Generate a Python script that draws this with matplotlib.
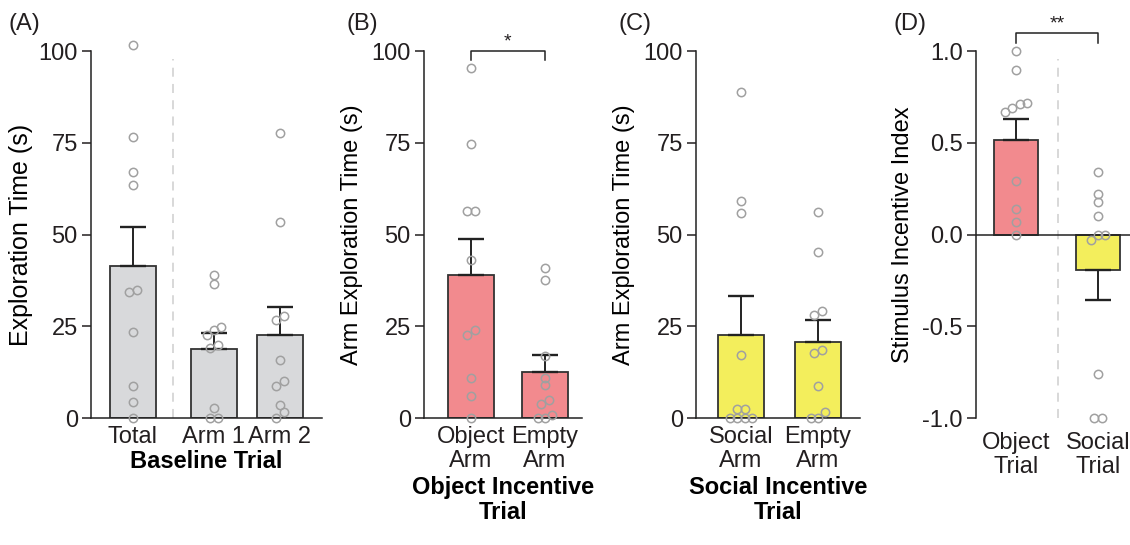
import numpy as np
import matplotlib
matplotlib.use('Agg')
import matplotlib.pyplot as plt

plt.rcParams['font.family'] = ['Liberation Sans', 'DejaVu Sans']
plt.rcParams['axes.unicode_minus'] = False
plt.rcParams['text.color'] = '#231f20'
plt.rcParams['xtick.color'] = '#231f20'
plt.rcParams['ytick.color'] = '#231f20'

#################################
# data
#################################

# (A) baseline trial
base_labels = ['Total', 'Arm 1', 'Arm 2']
base_means = [41.4, 18.9, 22.5]
base_sem = [10.8, 4.4, 7.9]
base_total = [101.6, 76.5, 67.2, 63.5, 35.0, 34.3, 23.4, 8.6, 4.4, 0.0]
base_arm1 = [39.1, 36.6, 24.7, 24.0, 22.7, 20.0, 19.1, 2.7, 0.0, 0.0]
base_arm2 = [77.7, 53.5, 27.9, 26.7, 15.7, 10.2, 8.6, 3.6, 1.6, 0.0]

# (B) object incentive trial
obj_labels = ['Object\nArm', 'Empty\nArm']
obj_means = [38.9, 12.5]
obj_sem = [9.9, 4.8]
obj_object = [95.3, 74.6, 56.5, 56.5, 43.0, 24.0, 22.6, 10.9, 5.9, 0.0]
obj_empty = [40.8, 37.7, 16.9, 10.9, 9.0, 5.0, 3.9, 0.9, 0.0, 0.0]

# (C) social incentive trial
soc_labels = ['Social\nArm', 'Empty\nArm']
soc_means = [22.7, 20.6]
soc_sem = [10.5, 6.0]
soc_social = [88.8, 59.3, 55.9, 17.3, 2.5, 2.5, 0.0, 0.0, 0.0, 0.0]
soc_empty = [56.1, 45.3, 29.1, 28.2, 18.5, 17.8, 8.8, 1.6, 0.0, 0.0]

# (D) stimulus incentive index
idx_labels = ['Object\nTrial', 'Social\nTrial']
idx_means = [0.515, -0.195]
idx_sem = [0.116, 0.163]
idx_object = [1.0, 0.9, 0.72, 0.71, 0.69, 0.67, 0.29, 0.14, 0.067, 0.0]
idx_social = [0.34, 0.22, 0.18, 0.10, 0.0, 0.0, -0.03, -0.76, -1.0, -1.0]

GRAY = '#d8d9db'
PINK = '#f28a8e'
YELLOW = '#f3ee5c'
EDGE = '#333333'
DOT = '#a0a0a0'
FS = 17


def spread(vals, thr, step=0.12):
	# little beeswarm: points that would overlap are put side by side
	vals = np.array(vals, dtype=float)
	order = np.argsort(vals)
	offs = np.zeros(len(vals))
	groups = [[order[0]]]
	for i in order[1:]:
		if abs(vals[i] - vals[groups[-1][-1]]) < thr:
			groups[-1].append(i)
		else:
			groups.append([i])
	for g in groups:
		n = len(g)
		for k, i in enumerate(g):
			offs[i] = (k - (n - 1) / 2) * step
	return offs


def panel(ax, pos, means, sem, colors, points, thr, width=0.78):
	ax.bar(pos, means, width=width, color=colors, edgecolor=EDGE, linewidth=1.3, zorder=2)
	for p, m, s in zip(pos, means, sem):
		err = [[0], [s]] if m >= 0 else [[s], [0]]
		ax.errorbar([p], [m], yerr=err, fmt='none', ecolor='#222222', elinewidth=1.4,
					capsize=9.5, capthick=1.7, zorder=3)
	for p, vals in zip(pos, points):
		xs = p + spread(vals, thr)
		ax.plot(xs, vals, 'o', ms=6, mfc='none', mec=DOT, mew=1.1, zorder=4, clip_on=False)
	for s in ['top', 'right']:
		ax.spines[s].set_visible(False)
	for s in ['left', 'bottom']:
		ax.spines[s].set_linewidth(1.1)
		ax.spines[s].set_color('#222222')
	ax.tick_params(axis='y', direction='out', length=6.5, width=1.1, labelsize=FS, pad=3)
	ax.tick_params(axis='x', length=0, labelsize=FS, pad=6)
	ax.patch.set_alpha(0)


fig = plt.figure(figsize=(11.3, 5.45), dpi=100)
bottom, height = 0.233, 0.673

# ----------- (A) ------------------------
axA = fig.add_axes([0.0805, bottom, 0.2044, height])
posA = [0, 1.35, 2.45]
panel(axA, posA, base_means, base_sem, [GRAY] * 3, [base_total, base_arm1, base_arm2], 1.9)
axA.set_xlim(-0.7, 3.15)
axA.set_ylim(0, 100)
axA.set_yticks([0, 25, 50, 75, 100])
axA.set_xticks(posA)
axA.set_xticklabels(base_labels)
axA.plot([0.667, 0.667], [0, 98], ls=(0, (5, 4)), color='#d6d6d6', lw=1.3, zorder=1)
axA.set_ylabel('Exploration Time (s)', fontsize=18, labelpad=4)
axA.set_xlabel('Baseline Trial', fontsize=FS, fontweight='bold', labelpad=1)

# ----------- (B) ------------------------
axB = fig.add_axes([0.3752, bottom, 0.1398, height])
posB = [0, 1.233]
panel(axB, posB, obj_means, obj_sem, [PINK] * 2, [obj_object, obj_empty], 1.9)
axB.set_xlim(-0.783, 1.85)
axB.set_ylim(0, 100)
axB.set_yticks([0, 25, 50, 75, 100])
axB.set_xticks(posB)
axB.set_xticklabels(obj_labels, linespacing=1.1)
axB.set_ylabel('Arm Exploration Time (s)', fontsize=FS, labelpad=6)
axB.set_xlabel('Object Incentive\nTrial', fontsize=FS, fontweight='bold', labelpad=3, linespacing=1.1)
axB.plot([posB[0], posB[0], posB[1], posB[1]], [97.6, 100, 100, 97.6], color='#222222', lw=1.1, clip_on=False)
axB.text(np.mean(posB), 100.3, '*', ha='center', va='bottom', fontsize=14)

# ----------- (C) ------------------------
axC = fig.add_axes([0.6159, bottom, 0.1451, height])
posC = [0, 1.283]
panel(axC, posC, soc_means, soc_sem, [YELLOW] * 2, [soc_social, soc_empty], 1.9)
axC.set_xlim(-0.75, 1.98)
axC.set_ylim(0, 100)
axC.set_yticks([0, 25, 50, 75, 100])
axC.set_xticks(posC)
axC.set_xticklabels(soc_labels, linespacing=1.1)
axC.set_ylabel('Arm Exploration Time (s)', fontsize=FS, labelpad=6)
axC.set_xlabel('Social Incentive\nTrial', fontsize=FS, fontweight='bold', labelpad=3, linespacing=1.1)

# ----------- (D) ------------------------
axD = fig.add_axes([0.8637, bottom, 0.1363, height])
posD = [0, 1.367]
panel(axD, posD, idx_means, idx_sem, [PINK, YELLOW], [idx_object, idx_social], 0.037, width=0.72)
axD.spines['bottom'].set_visible(False)
axD.axhline(0, color='#222222', lw=1.1, zorder=2.5)
axD.set_xlim(-0.667, 1.9)
axD.set_ylim(-1, 1)
axD.set_yticks([-1, -0.5, 0, 0.5, 1])
axD.set_yticklabels(['-1.0', '-0.5', '0.0', '0.5', '1.0'])
axD.set_xticks(posD)
axD.set_xticklabels(idx_labels, linespacing=1.1)
axD.tick_params(axis='x', pad=10)
axD.plot([0.7, 0.7], [-1, 0.96], ls=(0, (5, 4)), color='#d6d6d6', lw=1.3, zorder=1)
axD.set_ylabel('Stimulus Incentive Index', fontsize=FS, labelpad=6)
axD.plot([posD[0], posD[0], posD[1], posD[1]], [1.045, 1.098, 1.098, 1.045], color='#222222', lw=1.1, clip_on=False)
axD.text(np.mean(posD), 1.1, '**', ha='center', va='bottom', fontsize=14)

# panel letters
for x, lab in [(8, '(A)'), (347, '(B)'), (618, '(C)'), (893, '(D)')]:
	fig.text(x / 1130, 1 - 24 / 545, lab, fontsize=FS, ha='left', va='center')

plt.savefig('out.png', dpi=100)
